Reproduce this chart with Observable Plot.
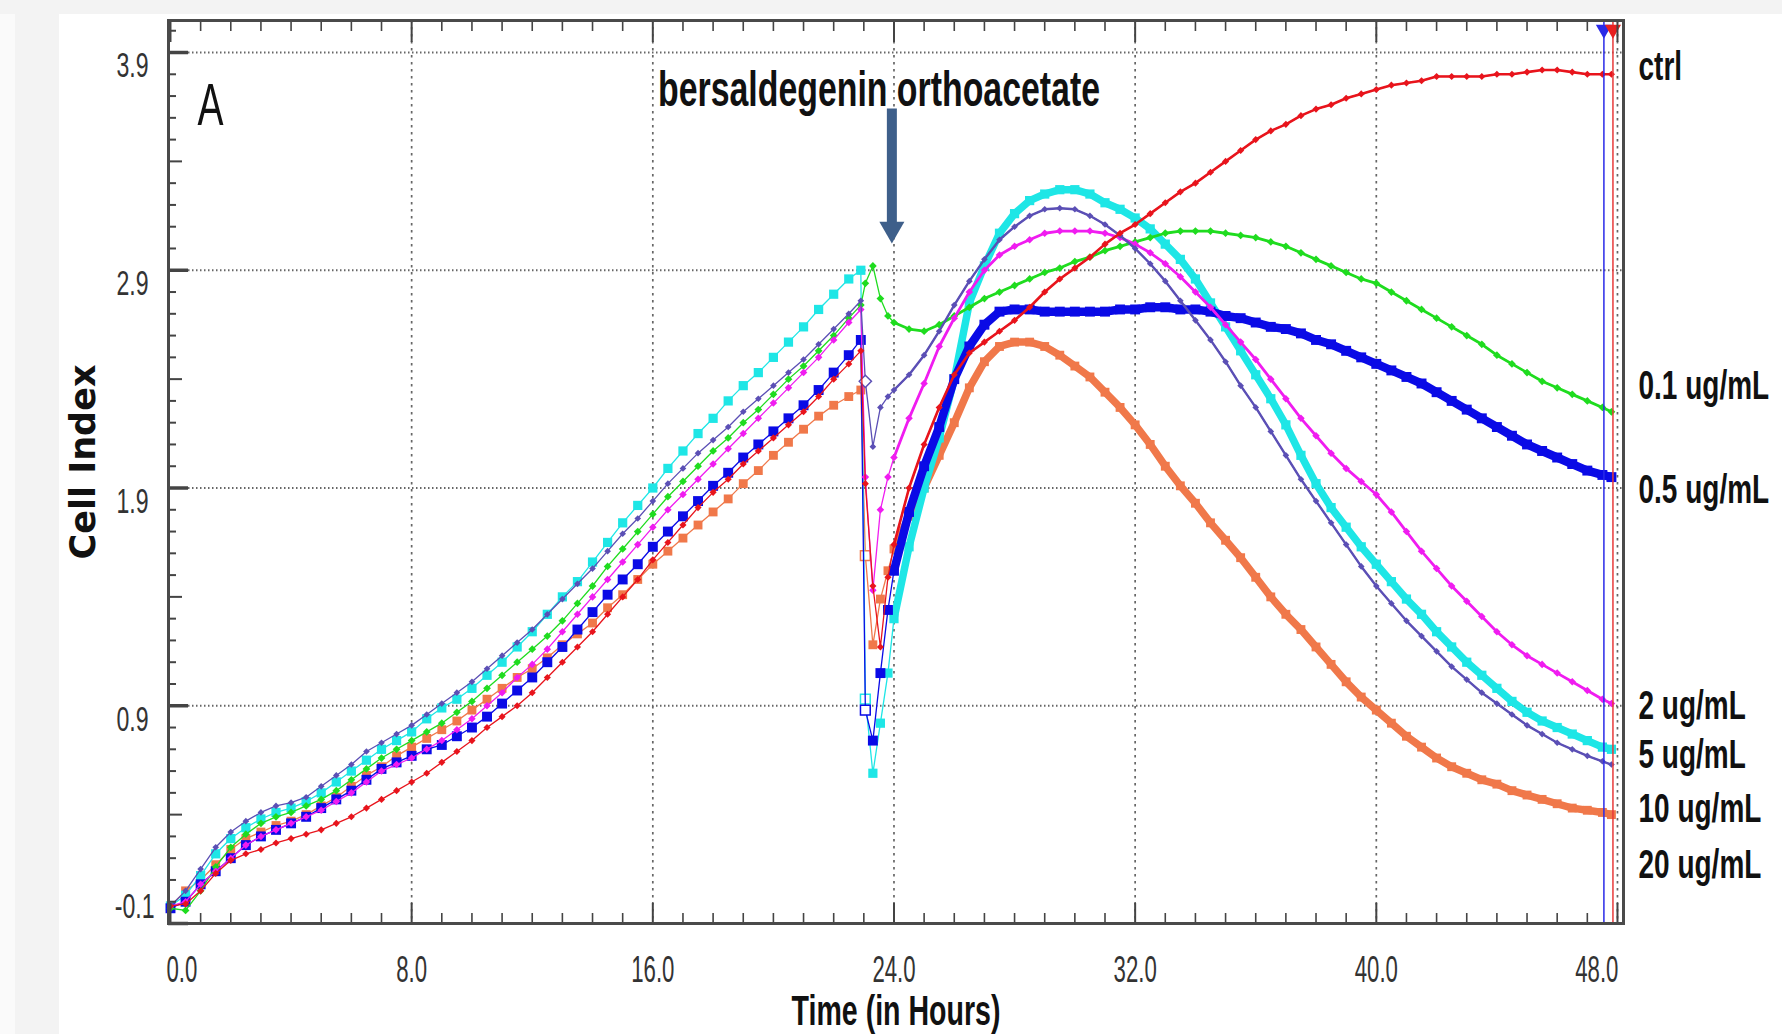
<!DOCTYPE html>
<html>
<head>
<meta charset="utf-8">
<script src="https://cdn.jsdelivr.net/npm/d3@7"></script>
<script src="https://cdn.jsdelivr.net/npm/@observablehq/plot@0.6"></script>
<style>
html, body { margin: 0; padding: 0; width: 1782px; height: 1034px; overflow: hidden; background: #f3f3f3; }
#strip { position: absolute; left: 0; top: 14px; width: 15px; height: 1020px; background: #fafafa; }
#panel { position: absolute; left: 59px; top: 14px; width: 1723px; height: 1020px; background: #ffffff; }
#chart { position: absolute; left: 0; top: 0; }
</style>
</head>
<body>
<div id="strip"></div>
<div id="panel"></div>
<div id="chart"></div>
<script>
// ---------- data ----------
const hours = [0,0.5,1,1.5,2,2.5,3,3.5,4,4.5,5,5.5,6,6.5,7,7.5,8,8.5,9,9.5,10,10.5,11,11.5,12,12.5,13,13.5,14,14.5,15,15.5,16,16.5,17,17.5,18,18.5,19,19.5,20,20.5,21,21.5,22,22.5,
  22.9,23.05,23.3,23.55,23.8,
  24,24.5,25,25.5,26,26.5,27,27.5,28,28.5,29,29.5,30,30.5,31,31.5,32,32.5,33,33.5,34,34.5,35,35.5,36,36.5,37,37.5,38,38.5,39,39.5,40,40.5,41,41.5,42,42.5,43,43.5,44,44.5,45,45.5,46,46.5,47,47.5,47.8];

const ctrl = [-0.02,-0.01,0.05,0.13,0.19,0.22,0.24,0.27,0.29,0.31,
  0.33,0.36,0.39,0.43,0.47,0.51,0.55,0.59,0.64,0.69,
  0.74,0.80,0.85,0.90,0.96,1.03,1.10,1.17,1.24,1.32,
  1.40,1.48,1.57,1.65,1.73,1.81,1.88,1.94,2.01,2.07,
  2.13,2.19,2.25,2.32,2.40,2.47,
  2.53,
  1.92,1.45,1.17,1.49,
  1.64,1.90,2.10,2.27,2.42,2.52,2.57,2.62,2.67,2.73,
  2.80,2.86,2.91,2.96,3.02,3.07,3.11,3.16,3.21,3.26,
  3.30,3.35,3.40,3.45,3.50,3.54,3.57,3.61,3.64,3.66,
  3.69,3.71,3.73,3.75,3.76,3.77,3.79,3.79,3.79,3.79,
  3.80,3.80,3.81,3.82,3.82,3.81,3.80,3.80,
  3.80];

const ug01 = [-0.03,-0.04,0.05,0.16,0.25,0.31,0.36,0.39,0.41,0.44,
  0.47,0.51,0.56,0.61,0.66,0.70,0.74,0.78,0.82,0.87,
  0.92,0.98,1.04,1.10,1.16,1.22,1.29,1.37,1.45,1.54,
  1.62,1.70,1.78,1.86,1.93,2.00,2.07,2.13,2.20,2.26,
  2.33,2.40,2.46,2.53,2.60,2.68,
  2.74,
  2.84,2.92,2.77,2.69,
  2.66,2.63,2.62,2.65,2.69,2.73,2.77,2.80,2.83,2.86,
  2.89,2.91,2.94,2.96,2.99,3.01,3.03,3.05,3.07,3.08,
  3.08,3.08,3.07,3.06,3.05,3.03,3.01,2.98,2.95,2.92,
  2.89,2.86,2.84,2.80,2.76,2.72,2.68,2.64,2.60,2.56,
  2.51,2.47,2.43,2.39,2.36,2.33,2.30,2.27,
  2.25];

const ug05 = [-0.03,0.00,0.08,0.14,0.20,0.26,0.30,0.33,0.36,0.39,
  0.43,0.47,0.51,0.56,0.61,0.64,0.67,0.70,0.72,0.76,
  0.80,0.85,0.91,0.97,1.03,1.10,1.17,1.25,1.33,1.41,
  1.48,1.55,1.63,1.70,1.77,1.84,1.91,1.97,2.04,2.10,
  2.16,2.22,2.28,2.35,2.43,2.51,
  2.58,
  0.88,0.74,1.05,1.34,
  1.52,1.79,2.00,2.18,2.40,2.55,2.65,2.71,2.72,2.72,
  2.71,2.71,2.71,2.71,2.71,2.72,2.72,2.73,2.73,2.72,
  2.72,2.71,2.69,2.68,2.66,2.64,2.63,2.61,2.58,2.56,
  2.53,2.50,2.47,2.44,2.41,2.38,2.34,2.30,2.26,2.22,
  2.18,2.14,2.10,2.07,2.04,2.01,1.98,1.96,
  1.95];

const ug2 = [-0.02,0.00,0.08,0.14,0.20,0.26,0.30,0.33,0.36,0.39,
  0.42,0.46,0.50,0.55,0.60,0.63,0.66,0.70,0.74,0.79,
  0.84,0.90,0.96,1.03,1.09,1.16,1.24,1.32,1.40,1.48,
  1.56,1.64,1.72,1.80,1.87,1.94,2.01,2.08,2.15,2.22,
  2.29,2.36,2.43,2.50,2.58,2.66,
  2.72,
  1.95,1.43,1.80,1.95,
  2.04,2.22,2.38,2.55,2.68,2.80,2.90,2.97,3.01,3.04,
  3.07,3.08,3.08,3.08,3.07,3.05,3.02,2.98,2.93,2.87,
  2.80,2.73,2.65,2.57,2.49,2.40,2.31,2.22,2.14,2.06,
  1.99,1.93,1.87,1.79,1.70,1.61,1.53,1.45,1.38,1.31,
  1.24,1.18,1.13,1.09,1.05,1.01,0.97,0.93,
  0.91];

const ug5 = [-0.02,0.03,0.12,0.22,0.29,0.34,0.38,0.41,0.43,0.46,
  0.50,0.55,0.60,0.65,0.70,0.74,0.78,0.84,0.89,0.93,
  0.98,1.04,1.10,1.17,1.24,1.32,1.40,1.47,1.56,1.65,
  1.74,1.82,1.90,1.99,2.07,2.15,2.22,2.30,2.37,2.43,
  2.50,2.57,2.64,2.72,2.79,2.86,
  2.90,
  0.93,0.59,0.82,1.05,
  1.30,1.63,1.90,2.13,2.40,2.75,2.92,3.07,3.16,3.22,
  3.25,3.27,3.27,3.25,3.21,3.18,3.14,3.09,3.02,2.95,
  2.86,2.75,2.64,2.53,2.42,2.31,2.19,2.05,1.92,1.81,
  1.72,1.63,1.55,1.47,1.39,1.32,1.24,1.17,1.10,1.04,
  0.98,0.92,0.87,0.83,0.80,0.77,0.74,0.71,
  0.70];

const ug10 = [-0.02,0.05,0.15,0.25,0.32,0.37,0.41,0.44,0.455,0.48,
  0.53,0.58,0.63,0.69,0.73,0.77,0.81,0.86,0.91,0.96,
  1.01,1.07,1.13,1.19,1.25,1.32,1.39,1.46,1.53,1.61,
  1.69,1.76,1.84,1.92,1.99,2.06,2.12,2.18,2.25,2.31,
  2.37,2.43,2.49,2.56,2.63,2.70,
  2.76,
  2.39,2.09,2.27,2.32,
  2.35,2.42,2.51,2.62,2.74,2.85,2.95,3.04,3.10,3.15,
  3.18,3.185,3.18,3.15,3.11,3.06,3.00,2.93,2.85,2.76,
  2.67,2.58,2.48,2.37,2.27,2.16,2.05,1.94,1.84,1.74,
  1.64,1.54,1.45,1.37,1.29,1.22,1.15,1.08,1.02,0.96,
  0.91,0.86,0.81,0.77,0.73,0.70,0.67,0.645,
  0.63];

const ug20 = [-0.02,0.05,0.10,0.17,0.24,0.29,0.32,0.35,0.37,0.40,
  0.44,0.48,0.53,0.58,0.62,0.67,0.71,0.75,0.79,0.83,
  0.88,0.93,0.98,1.03,1.07,1.12,1.18,1.23,1.28,1.35,
  1.41,1.48,1.55,1.61,1.67,1.73,1.79,1.85,1.92,1.98,
  2.05,2.11,2.17,2.23,2.28,2.32,
  2.35,
  1.59,1.18,1.39,1.52,
  1.62,1.77,1.90,2.05,2.20,2.36,2.48,2.55,2.57,2.57,
  2.55,2.51,2.46,2.41,2.34,2.27,2.19,2.10,2.00,1.91,
  1.83,1.74,1.66,1.58,1.49,1.40,1.32,1.25,1.17,1.09,
  1.01,0.94,0.88,0.82,0.76,0.71,0.66,0.62,0.59,0.56,
  0.54,0.51,0.49,0.47,0.45,0.43,0.42,0.41,
  0.40];

const seriesNames = ["ctrl", "0.1 ug/mL", "0.5 ug/mL", "2 ug/mL", "5 ug/mL", "10 ug/mL", "20 ug/mL"];
const labelAt = [3.776, 2.311, 1.829, 0.837, 0.612, 0.364, 0.111];   // Cell Index level of each right-hand label
const yTickLabels = [3.9, 2.9, 1.9, 0.9, -0.1];
const xTickLabels = [0, 8, 16, 24, 32, 40, 48];
const treatmentHour = 23.93;          // arrow "bersaldegenin orthoacetate"
const markerHours = [47.55, 47.85];   // blue / red cursor lines

// ---------- styles ----------
const style = {
  ctrl:        {values: ctrl, color: "#e8141c", symbol: "diamond2", r: 3.2, band: 2.6},
  "0.1 ug/mL": {values: ug01, color: "#1fdc1f", symbol: "diamond2", r: 3.5, band: 2.8},
  "0.5 ug/mL": {values: ug05, color: "#0a0ae6", symbol: "square",   r: 5.6, band: 8.5},
  "2 ug/mL":   {values: ug2,  color: "#f01cf0", symbol: "diamond2", r: 3.4, band: 2.8},
  "5 ug/mL":   {values: ug5,  color: "#1ee6e6", symbol: "square",   r: 5.2, band: 7.5},
  "10 ug/mL":  {values: ug10, color: "#5b4fb5", symbol: "diamond2", r: 3.0, band: 2.4},
  "20 ug/mL":  {values: ug20, color: "#f0784a", symbol: "square",   r: 5.0, band: 7.5}
};
const drawOrder = ["20 ug/mL", "5 ug/mL", "0.5 ug/mL", "0.1 ug/mL", "2 ug/mL", "10 ug/mL", "ctrl"];
const openMarkerSeries = ["20 ug/mL", "0.5 ug/mL", "5 ug/mL", "10 ug/mL"];
const bandFrom = 24;   // after the treatment the recorder sampled densely: markers merge into a band

const W = 1782, H = 1034;
const M = {left: 168, right: 159, top: 20, bottom: 111};
const FW = W - M.left - M.right;
const FH = H - M.top - M.bottom;
const SANS = "'Liberation Sans', Arial, Helvetica, sans-serif";

const marks = [];

// grid
marks.push(Plot.gridY([0.9, 1.9, 2.9, 3.9], {stroke: "#666", strokeOpacity: 1, strokeWidth: 2, strokeDasharray: "1.5,2.5"}));
marks.push(Plot.gridX([8, 16, 24, 32, 40, 48], {stroke: "#666", strokeOpacity: 1, strokeWidth: 1.7, strokeDasharray: "2.5,4.5"}));

// series
for (const name of drawOrder) {
  const s = style[name];
  const rows = hours.map((h, i) => ({hour: h, value: s.values[i]}));
  marks.push(Plot.line(rows, {x: "hour", y: "value", stroke: s.color, strokeWidth: 1.3}));
  marks.push(Plot.line(rows.filter(d => d.hour >= bandFrom), {x: "hour", y: "value", stroke: s.color, strokeWidth: s.band, strokeLinejoin: "round", strokeLinecap: "butt"}));
  marks.push(Plot.dot(rows, {x: "hour", y: "value", symbol: s.symbol, r: s.r, fill: s.color, stroke: "none"}));
  if (openMarkerSeries.includes(name)) {
    marks.push(Plot.dot(rows.filter(d => d.hour === 23.05), {x: "hour", y: "value", symbol: s.symbol, r: 5.5, fill: "white", stroke: s.color, strokeWidth: 1.5}));
  }
}

// cursor lines at the right
marks.push(Plot.ruleX([markerHours[0]], {stroke: "#2a2ae8", strokeWidth: 1.5}));
marks.push(Plot.ruleX([markerHours[1]], {stroke: "#e83a3a", strokeWidth: 1.5}));
marks.push(Plot.dot([markerHours[0]], {x: d => d, frameAnchor: "top", dy: 9, symbol: "triangle", rotate: 180, r: 6, fill: "#2a2ae8", stroke: "none"}));
marks.push(Plot.dot([markerHours[1]], {x: d => d, frameAnchor: "top", dy: 9, symbol: "triangle", rotate: 180, r: 6, fill: "#e82020", stroke: "none"}));

// frame ticks (inward)
const yMinor = d3.range(0, 42).map(i => ({v: -0.1 + i * 0.1, k: i % 10 === 0 ? 2 : i % 10 === 5 ? 1 : 0}));
const tickColor = "#444";
marks.push(Plot.tickY(yMinor.filter(d => d.k === 0), {y: "v", insetRight: FW - 8, stroke: tickColor, strokeWidth: 2}));
marks.push(Plot.tickY(yMinor.filter(d => d.k === 1), {y: "v", insetRight: FW - 14, stroke: tickColor, strokeWidth: 2}));
marks.push(Plot.tickY(yMinor.filter(d => d.k === 2), {y: "v", insetRight: FW - 20, stroke: tickColor, strokeWidth: 3.5}));
const xTicks = d3.range(0, 49).map(h => ({h, major: h % 8 === 0}));
marks.push(Plot.tickX(xTicks.filter(d => !d.major), {x: "h", insetTop: FH - 10, stroke: tickColor, strokeWidth: 1.6}));
marks.push(Plot.tickX(xTicks.filter(d => d.major), {x: "h", insetTop: FH - 20, stroke: tickColor, strokeWidth: 2}));
marks.push(Plot.tickX(xTicks.filter(d => !d.major), {x: "h", insetBottom: FH - 11, stroke: tickColor, strokeWidth: 1.6}));
marks.push(Plot.tickX(xTicks.filter(d => d.major), {x: "h", insetBottom: FH - 22, stroke: tickColor, strokeWidth: 2}));

marks.push(Plot.frame({stroke: "#4a4a4a", strokeWidth: 3}));

// tick labels
marks.push(Plot.text(yTickLabels.filter(v => v > 0), {y: d => d, text: d => d.toFixed(1), frameAnchor: "left", dx: -20, textAnchor: "end", lineAnchor: "top", fontSize: 35, fill: "#333", fontFamily: SANS, ariaDescription: "sx:0.66"}));
marks.push(Plot.text(yTickLabels.filter(v => v < 0), {y: d => d, text: d => d.toFixed(1), frameAnchor: "left", dx: -14, dy: -6, textAnchor: "end", lineAnchor: "bottom", fontSize: 35, fill: "#333", fontFamily: SANS, ariaDescription: "sx:0.66"}));
marks.push(Plot.text(xTickLabels.slice(1, -1), {x: d => d, text: d => d.toFixed(1), frameAnchor: "bottom", dy: 32, lineAnchor: "top", fontSize: 37, fill: "#333", fontFamily: SANS, ariaDescription: "sx:0.6"}));
marks.push(Plot.text(xTickLabels.slice(0, 1), {x: d => d, text: d => d.toFixed(1), frameAnchor: "bottom", dy: 32, dx: -4, textAnchor: "start", lineAnchor: "top", fontSize: 37, fill: "#333", fontFamily: SANS, ariaDescription: "sx:0.6"}));
marks.push(Plot.text(xTickLabels.slice(-1), {x: d => d, text: d => d.toFixed(1), frameAnchor: "bottom", dy: 32, dx: 1, textAnchor: "end", lineAnchor: "top", fontSize: 37, fill: "#333", fontFamily: SANS, ariaDescription: "sx:0.6"}));

// axis titles
marks.push(Plot.text(["Time (in Hours)"], {text: d => d, frameAnchor: "bottom", dy: 101, lineAnchor: "bottom", fontSize: 42, fontWeight: "bold", fill: "#111", fontFamily: SANS, ariaDescription: "sx:0.68"}));
marks.push(Plot.text(["Cell Index"], {text: d => d, frameAnchor: "left", dx: -74, dy: -10, rotate: -90, textAnchor: "middle", lineAnchor: "bottom", fontSize: 35, fontWeight: "bold", fill: "#111", fontFamily: "'DejaVu Sans', sans-serif"}));

// panel letter
marks.push(Plot.text(["A"], {text: d => d, frameAnchor: "top-left", dx: 29, dy: 104, textAnchor: "start", lineAnchor: "bottom", fontSize: 60, fill: "#111", fontFamily: SANS, ariaDescription: "sx:0.65"}));

// treatment annotation
marks.push(Plot.text(["bersaldegenin orthoacetate"], {text: d => d, frameAnchor: "top", dx: -17, dy: 85, lineAnchor: "bottom", fontSize: 50, fontWeight: "bold", fill: "#111", fontFamily: SANS, ariaDescription: "sx:0.677"}));
marks.push(Plot.ruleX([treatmentHour], {y1: 3.64, y2: 3.07, stroke: "#3e5f8a", strokeWidth: 10}));
marks.push(Plot.dot([treatmentHour], {x: d => d, y: () => 3.089, symbol: "triangle", rotate: 180, r: 9.3, fill: "#3e5f8a", stroke: "none"}));

// series labels on the right
marks.push(Plot.text(seriesNames, {text: d => d, y: (d, i) => labelAt[i], frameAnchor: "right", dx: 15, textAnchor: "start", lineAnchor: "bottom", fontSize: 40, fontWeight: "bold", fill: "#111", fontFamily: SANS, ariaDescription: "sx:0.7"}));

const svg = Plot.plot({
  width: W, height: H,
  marginLeft: M.left, marginRight: M.right, marginTop: M.top, marginBottom: M.bottom,
  x: {domain: [-0.066, 48.2], axis: null},
  y: {domain: [-0.1, 4.047], axis: null},
  style: {background: "transparent", fontFamily: SANS, overflow: "visible"},
  marks
});

// narrow the condensed labels horizontally (the original uses a condensed face)
svg.querySelectorAll("g[aria-description]").forEach(g => {
  const m = /^sx:([\d.]+)$/.exec(g.getAttribute("aria-description"));
  if (!m) return;
  g.querySelectorAll("text").forEach(t => {
    t.setAttribute("transform", (t.getAttribute("transform") || "") + ` scale(${m[1]},1)`);
  });
});

document.getElementById("chart").appendChild(svg);
</script>
</body>
</html>
